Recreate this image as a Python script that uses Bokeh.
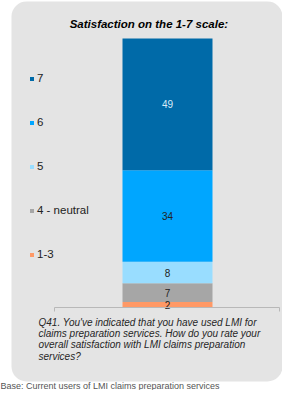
from bokeh.plotting import figure
from bokeh.models import Range1d, Label, BoxAnnotation, Legend, LegendItem, ColumnDataSource
from bokeh.core.properties import value
from bokeh.embed import file_html
from bokeh.resources import INLINE

# ---- data ----
categories = ["Satisfaction"]
segments = ["1-3", "4 - neutral", "5", "6", "7"]
seg_values = [2, 7, 8, 34, 49]
seg_colors = ["#FF9966", "#A6A6A6", "#99DDFF", "#00A6FF", "#006AA8"]
label_colors = ["#222222", "#222222", "#222222", "#222222", "#D8ECF8"]
title_text = "Satisfaction  on the 1-7 scale:"
question_lines = [
    "Q41. You've indicated that you have used LMI for",
    "claims preparation services.    How do you rate your",
    "overall satisfaction with LMI claims preparation",
    "services?",
]
base_text = "Base: Current users of LMI  claims preparation services"

FONT = "Liberation Sans"
W, H = 282, 390
PX_PER_UNIT = 2.69
y_start = -83 / PX_PER_UNIT

p = figure(width=W, height=H, output_backend="svg", toolbar_location=None,
           x_range=Range1d(-1.67, 1.15), y_range=Range1d(y_start, y_start + H / PX_PER_UNIT),
           min_border=0, min_border_left=0, min_border_right=0,
           min_border_top=0, min_border_bottom=0)
p.axis.visible = False
p.grid.visible = False
p.outline_line_color = None
p.background_fill_color = "white"
p.border_fill_color = "white"

# rounded grey panel
panel = BoxAnnotation(left=11, right=282, top=389, bottom=9,
                      left_units="screen", right_units="screen",
                      top_units="screen", bottom_units="screen",
                      fill_color="#E4E4E4", fill_alpha=1, line_color=None,
                      border_radius=15, level="underlay")
p.add_layout(panel)

# stacked bar
data = {"x": list(range(len(categories)))}
for s, v in zip(segments, seg_values):
    data[s] = [v]
src = ColumnDataSource(data)
renderers = p.vbar_stack(segments, x="x", width=0.9, source=src,
                         color=seg_colors, line_color=None)

# value labels at segment midpoints
bottoms = []
acc = 0
for v in seg_values:
    bottoms.append(acc)
    acc += v
mids = [b + v / 2 for b, v in zip(bottoms, seg_values)]
lab_src = ColumnDataSource(dict(x=[0] * len(seg_values), y=mids,
                                t=[str(v) for v in seg_values], c=label_colors))
p.text(x="x", y="y", text="t", text_color="c", source=lab_src,
       text_align="center", text_baseline="middle",
       text_font=value(FONT), text_font_size="10px")

# category axis line with end ticks
tick_len = 4 / PX_PER_UNIT
p.segment(x0=[-1.13], y0=[0], x1=[1.12], y1=[0], line_color="#B8B8B8", line_width=1)
p.segment(x0=[-1.13, 1.12], y0=[0, 0], x1=[-1.13, 1.12], y1=[-tick_len, -tick_len],
          line_color="#B8B8B8", line_width=1)

# legend (top = 7)
items = [LegendItem(label=s, renderers=[r]) for s, r in zip(segments, renderers)][::-1]
legend = Legend(items=items, location=(29, 130), orientation="vertical",
                glyph_width=5, glyph_height=5, label_standoff=3,
                spacing=32, padding=0, margin=0,
                label_text_font=FONT, label_text_font_size="11.5px",
                label_text_color="#222222",
                border_line_color=None, background_fill_alpha=0)
p.add_layout(legend, "center")

# title
p.add_layout(Label(x=150, y=367, x_units="screen", y_units="screen", text=title_text,
                   text_font=FONT, text_font_size="11.5px", text_font_style="bold italic",
                   text_color="#000000", text_align="center", text_baseline="middle"))

# question text
for i, line in enumerate(question_lines):
    p.add_layout(Label(x=38, y=68.3 - i * 11.3, x_units="screen", y_units="screen",
                       text=line, text_font=FONT, text_font_size="10px",
                       text_font_style="italic", text_color="#262626",
                       text_align="left", text_baseline="middle"))

# base note
p.add_layout(Label(x=0, y=5, x_units="screen", y_units="screen", text=base_text,
                   text_font=FONT, text_font_size="9px", text_color="#555555",
                   text_align="left", text_baseline="middle"))

open("out.html", "w").write(file_html(p, INLINE))
